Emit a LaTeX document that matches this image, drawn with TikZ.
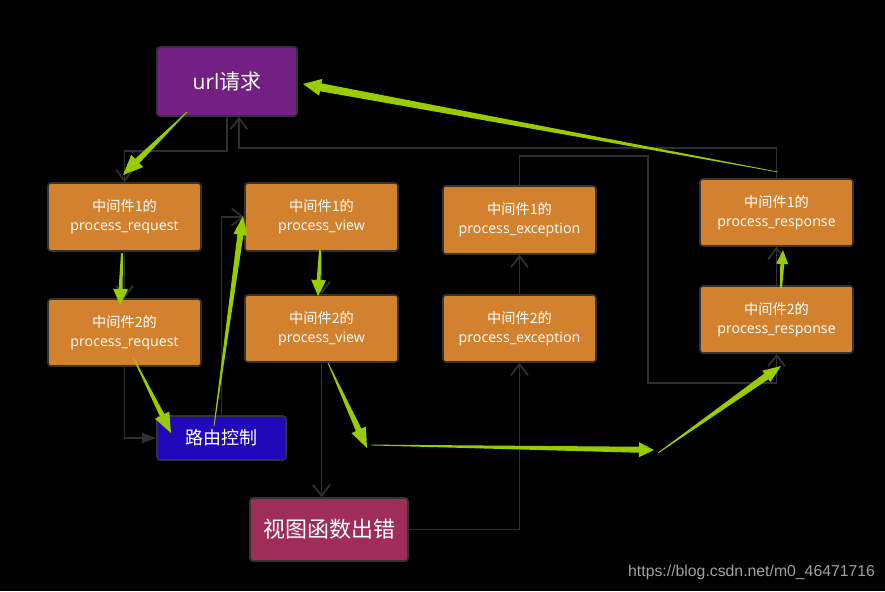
\documentclass[tikz,border=0pt]{standalone}
\usepackage{fontspec}
\setmainfont{Open Sans}
\newfontfamily\cjk{Noto Sans CJK SC}
\newfontfamily\wmfont{Liberation Sans}
\usetikzlibrary{arrows.meta,calc}
\definecolor{bgc}{HTML}{000000}
\definecolor{orangec}{HTML}{D2822E}
\definecolor{purplec}{HTML}{741F84}
\definecolor{bluec}{HTML}{2109B9}
\definecolor{errc}{HTML}{9E2E58}
\definecolor{borderc}{HTML}{333333}
\definecolor{conncol}{HTML}{303030}
\definecolor{garrowc}{HTML}{99CC00}
\definecolor{wmc}{HTML}{A0A0A0}
\newcommand\garrow[6]{%
 \fill[garrowc] let \p1=($(#2)-(#1)$), \n1={atan2(\y1,\x1)} in
  ($(#1)+(\n1+90:#3)$) -- ($(#2)!#5!(#1)+(\n1+90:#4)$) -- ($(#2)!#5!(#1)+(\n1+90:#6)$) -- (#2)
  -- ($(#2)!#5!(#1)+(\n1-90:#6)$) -- ($(#2)!#5!(#1)+(\n1-90:#4)$) -- ($(#1)+(\n1-90:#3)$) -- cycle;}
\tikzset{
 box/.style={draw=borderc, line width=1.6pt, rounded corners=3pt, minimum width=153pt,
   minimum height=67pt, inner sep=0pt, align=center, text=white, fill=orangec,
   font=\fontsize{14.2}{19}\selectfont},
 conn/.style={draw=conncol, line width=1.8pt},
 barb/.style={-{Straight Barb[length=11pt,width=17pt]}},
 tri/.style={-{Triangle[length=14pt,width=10pt]}}
}
\begin{document}
\begin{tikzpicture}[x=1pt,y=-1pt]
\fill[bgc] (0,0) rectangle (885,591);
\useasboundingbox (0,0) rectangle (885,591);

% boxes
\node[box, fill=purplec, minimum width=140pt, minimum height=69pt, font=\fontsize{21}{24}\selectfont] (url) at (227,81.5) {url{\cjk 请求}};
\node[box, minimum height=68pt] (pr1) at (124.5,217) {{\cjk 中间件1的}\\process\_request};
\node[box, minimum height=68pt] (pv1) at (321.5,217) {{\cjk 中间件1的}\\process\_view};
\node[box, minimum height=68pt] (pe1) at (519.5,220) {{\cjk 中间件1的}\\process\_exception};
\node[box] (rs1) at (776.5,212.5) {{\cjk 中间件1的}\\process\_response};
\node[box] (pr2) at (124.5,332.5) {{\cjk 中间件2的}\\process\_request};
\node[box] (pv2) at (321.5,328.5) {{\cjk 中间件2的}\\process\_view};
\node[box] (pe2) at (519.5,328.5) {{\cjk 中间件2的}\\process\_exception};
\node[box] (rs2) at (776.5,319.5) {{\cjk 中间件2的}\\process\_response};
\node[box, fill=bluec, minimum width=129pt, minimum height=44pt, font=\cjk\fontsize{18}{20}\selectfont] (route) at (221.5,438) {路由控制};
\node[box, fill=errc, minimum width=158pt, minimum height=63pt, font=\cjk\fontsize{22}{24}\selectfont] (err) at (329,529.5) {视图函数出错};

% dark connectors
\coordinate (k1) at (239,148);
\coordinate (k2) at (648,156);
\coordinate (k3) at (648,383);
\draw[conn, barb] (url.south) -- ++(0,34) -| (pr1.north);
\draw[conn, barb] (rs1.north) |- (k1) -- (k1 |- url.south);
\draw[conn, barb] (pe1.north) |- (k2) -- (k3) -| (rs2.south);
\draw[conn, barb] (pe2.north) -- (pe1.south);
\draw[conn, barb] (err.east) -| (pe2.south);
\draw[conn, barb] (pv2.south) -- (pv2.south |- err.north);
\draw[conn, tri] (pr2.south) |- (route.west);
\draw[conn, barb] (route.north) |- (pv1.west);
\draw[conn, barb] (pr1.south) -- (pr2.north);
\draw[conn, barb] (pv1.south) -- (pv2.north);
\draw[conn, barb] (rs2.north) -- (rs1.south);

% green arrows
\coordinate (g1s) at (187,112); \coordinate (g1t) at (123,175);
\coordinate (g2s) at (122,253); \coordinate (g2t) at (120,305);
\coordinate (g3s) at (133,357); \coordinate (g3t) at (171,433);
\coordinate (g4s) at (214,426); \coordinate (g4t) at (243,216);
\coordinate (g5s) at (320,250); \coordinate (g5t) at (318,296);
\coordinate (g6s) at (328,363); \coordinate (g6t) at (367,448);
\coordinate (g7s) at (371,445); \coordinate (g7t) at (654,450);
\coordinate (g8s) at (658,453); \coordinate (g8t) at (781,366);
\coordinate (g9s) at (781,288); \coordinate (g9t) at (783,250);
\coordinate (g10s) at (778,172); \coordinate (g10t) at (303,84);
\garrow{g1s}{g1t}{0.4pt}{3pt}{20pt}{8.5pt}
\garrow{g2s}{g2t}{1pt}{2pt}{16pt}{7.5pt}
\garrow{g3s}{g3t}{0.4pt}{2.5pt}{20pt}{8pt}
\garrow{g4s}{g4t}{0.4pt}{3pt}{19pt}{7pt}
\garrow{g5s}{g5t}{1pt}{2pt}{16pt}{7.5pt}
\garrow{g6s}{g6t}{0.4pt}{3pt}{20pt}{8pt}
\garrow{g7s}{g7t}{0.4pt}{3pt}{15pt}{7.5pt}
\garrow{g8s}{g8t}{0.4pt}{3.5pt}{18pt}{7pt}
\garrow{g9s}{g9t}{1pt}{2pt}{14pt}{6pt}
\garrow{g10s}{g10t}{0.3pt}{4pt}{18pt}{8.5pt}

% watermark
\node[anchor=west, inner sep=0pt, text=wmc, font=\wmfont\fontsize{15.8}{18}\selectfont] (wm) at (628,572) {https://blog.csdn.net/m0\_46471716};
\end{tikzpicture}
\end{document}
